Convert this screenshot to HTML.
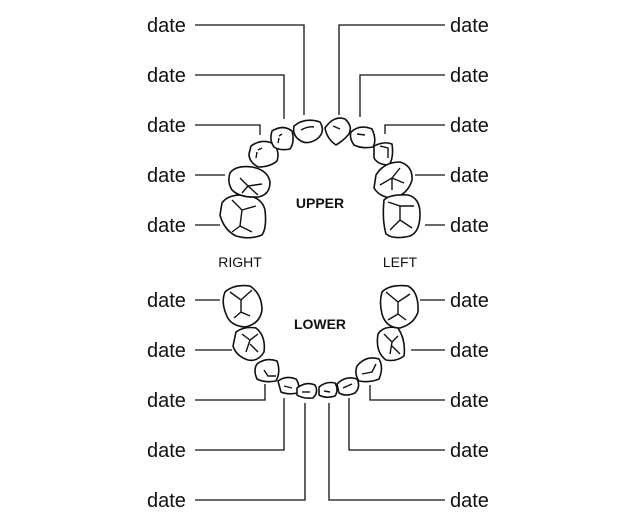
<!DOCTYPE html>
<html><head><meta charset="utf-8"><style>
html,body{margin:0;padding:0;background:#fff}
svg{display:block}
.d{font-family:"Liberation Sans",sans-serif;font-size:20px;fill:#111}
.s{font-family:"Liberation Sans",sans-serif;font-size:14px;fill:#111}
.b{font-family:"Liberation Sans",sans-serif;font-size:14px;font-weight:bold;fill:#111}
</style></head><body>
<svg width="640" height="525" viewBox="0 0 640 525" xmlns="http://www.w3.org/2000/svg">
<g class="d">
<text x="147" y="32">date</text><text x="147" y="82">date</text><text x="147" y="132">date</text><text x="147" y="182">date</text><text x="147" y="232">date</text>
<text x="147" y="307">date</text><text x="147" y="357">date</text><text x="147" y="407">date</text><text x="147" y="457">date</text><text x="147" y="507">date</text>
<text x="450" y="32">date</text><text x="450" y="82">date</text><text x="450" y="132">date</text><text x="450" y="182">date</text><text x="450" y="232">date</text>
<text x="450" y="307">date</text><text x="450" y="357">date</text><text x="450" y="407">date</text><text x="450" y="457">date</text><text x="450" y="507">date</text>
</g>
<text class="b" x="320" y="208" text-anchor="middle">UPPER</text>
<text class="b" x="320" y="329" text-anchor="middle">LOWER</text>
<text class="s" x="240" y="267" text-anchor="middle">RIGHT</text>
<text class="s" x="400" y="267" text-anchor="middle">LEFT</text>
<g fill="none" stroke="#111" stroke-width="1.3">
<path d="M195 25H304V115M195 75H284V119M195 125H260V135M195 175H225M195 225H220"/>
<path d="M445 25H339V115M445 75H360V117M445 125H385V134M445 175H415M445 225H425"/>
<path d="M195 300H220M195 350H232M195 400H265V384M195 450H284V398M195 500H305V403"/>
<path d="M445 500H329V403M445 450H349V398M445 400H370V385M445 350H411M445 300H420"/>
</g>
<g fill="#fff" stroke="#111" stroke-width="1.6" stroke-linejoin="round">
<path d="M222 203Q228 194 245 195Q262 197 265 210Q267 228 262 235Q250 240 236 236Q224 230 220 215Z"/>
<path d="M230 173Q236 165 252 167Q268 170 270 182Q270 195 258 197Q240 198 232 190Q227 182 230 173Z"/>
<path d="M251 146Q262 138 274 144Q280 152 277 161Q270 167 258 167Q249 162 249 154Z"/>
<path d="M272 131Q283 124 292 131Q295 142 290 149Q280 151 274 147Q269 140 272 131Z"/>
<path d="M294 126Q305 117 320 122Q326 132 317 139Q308 145 301 141Q292 136 294 126Z"/>
<path d="M325 128Q334 115 345 119Q353 126 349 134Q343 141 336 145Q327 139 325 128Z"/>
<path d="M351 132Q360 124 372 129Q377 140 373 147Q362 149 354 145Q349 138 351 132Z"/>
<path d="M374 146Q384 141 392 144Q394 158 389 165Q378 165 374 158Z"/>
<path d="M376 175Q384 162 400 162Q413 166 412 180Q408 194 394 198Q380 198 374 188Z"/>
<path d="M384 200Q390 194 408 195Q420 198 420 214Q420 232 410 236Q394 240 386 234Q382 220 384 200Z"/>
<path d="M225 292Q234 284 250 286Q262 294 262 310Q260 324 245 327Q230 326 226 314Q221 302 225 292Z"/>
<path d="M236 332Q244 326 256 328Q266 336 264 352Q258 362 248 360Q236 356 233 346Z"/>
<path d="M257 364Q266 357 277 361Q281 372 276 381Q264 383 257 379Q253 370 257 364Z"/>
<path d="M278 381Q286 375 296 379Q301 386 297 393Q288 395 281 392Z"/>
<path d="M297 388Q306 381 315 385Q319 392 313 398Q303 399 297 395Z"/>
<path d="M319 387Q326 381 335 383Q339 390 335 396Q326 399 319 395Z"/>
<path d="M337 384Q346 375 357 379Q361 387 355 393Q346 397 339 393Z"/>
<path d="M357 366Q366 355 379 359Q384 368 379 379Q370 383 359 381Q354 374 357 366Z"/>
<path d="M378 334Q384 325 398 328Q406 340 404 356Q396 362 386 360Q375 352 378 334Z"/>
<path d="M382 292Q390 284 408 286Q419 292 418 312Q414 324 400 328Q386 328 382 314Q379 302 382 292Z"/>
</g>
<g fill="none" stroke="#111" stroke-width="1.4">
<path d="M232 200L242 210L240 226M242 210L256 206M240 226L252 232M240 226L232 232"/>
<path d="M240 178L248 186L262 184M248 186L242 193M248 186L258 195"/>
<path d="M258 150L262 148M256 158L257 152"/>
<path d="M279 136L282 134M278 143L279 138"/>
<path d="M301 130Q308 126 314 127"/>
<path d="M333 126L340 129"/>
<path d="M357 134L365 135"/>
<path d="M380 146L388 148L388 158"/>
<path d="M380 185L392 178L400 168M392 178L404 183M392 178L392 190"/>
<path d="M388 202L400 206L414 206M400 206L400 220L412 228M400 220L390 230"/>
<path d="M230 292L241 300L252 290M241 300L241 312L250 316M241 312L234 318"/>
<path d="M242 334L250 340L258 334M250 340L246 352M250 344L258 352"/>
<path d="M264 370L268 376L276 376"/>
<path d="M284 386L292 388"/>
<path d="M302 392L310 392"/>
<path d="M324 391L330 392"/>
<path d="M343 388L352 384"/>
<path d="M362 374L372 372L376 364"/>
<path d="M384 334L392 342L398 336M392 342L390 354M392 346L400 354"/>
<path d="M386 292L398 302L410 294M398 302L398 314L388 320M398 314L406 320"/>
</g>
</svg>
</body></html>
